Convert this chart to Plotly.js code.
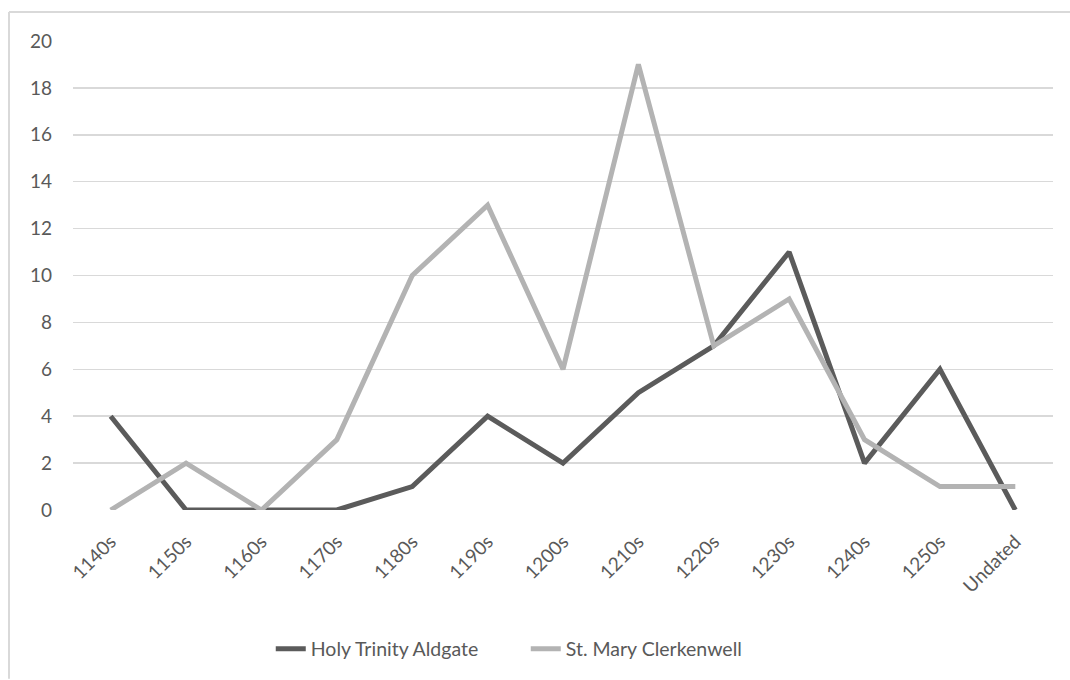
<!DOCTYPE html>
<html>
<head>
<meta charset="utf-8">
<script src="https://cdn.plot.ly/plotly-3.0.1.min.js"></script>
<style>
html,body{margin:0;padding:0;background:#fff;}
#chart{width:1070px;height:680px;}
</style>
</head>
<body>
<div id="chart"></div>
<script>
const categories = ["1140s","1150s","1160s","1170s","1180s","1190s","1200s","1210s","1220s","1230s","1240s","1250s","Undated"];
const holyTrinity = [4,0,0,0,1,4,2,5,7,11,2,6,0];
const stMary = [0,2,0,3,10,13,6,19,7,9,3,1,1];
const yTicks = [0,2,4,6,8,10,12,14,16,18,20];

const font = {family: "Lato, 'Liberation Sans', sans-serif", size: 19, color: "#595959"};
const legendFont = {family: "Lato, 'Liberation Sans', sans-serif", size: 19.5, color: "#595959"};

const traces = [
  {x: categories, y: holyTrinity, name: "Holy Trinity Aldgate", type: "scatter", mode: "lines",
   line: {color: "#5b5b5b", width: 5}},
  {x: categories, y: stMary, name: "St. Mary Clerkenwell", type: "scatter", mode: "lines",
   line: {color: "#b3b3b3", width: 5}}
];

const layout = {
  width: 1070, height: 680,
  margin: {l: 73, r: 17, t: 41, b: 168},
  paper_bgcolor: "#fff", plot_bgcolor: "#fff",
  font: font,
  showlegend: true,
  legend: {orientation: "h", x: 0.462, xanchor: "center", y: -0.255, yanchor: "top",
           font: legendFont, traceorder: "normal", entrywidth: 210, entrywidthmode: "pixels"},
  xaxis: {type: "category", tickangle: -45, showgrid: false, zeroline: false, showline: false,
          ticks: "", tickfont: font, range: [-0.5, 12.5], ticklabelstandoff: 16},
  yaxis: {range: [0, 20], tickvals: yTicks, ticktext: yTicks.map(String), showgrid: true,
          gridcolor: "#d9d9d9", gridwidth: 1.5, zeroline: false, showline: false, ticks: "",
          tickfont: font, ticklabelstandoff: 20},
  shapes: [
    {type: "line", xref: "paper", yref: "paper", x0: -0.0653, x1: 1.02, y0: 1.0616, y1: 1.0616,
     line: {color: "#d9d9d9", width: 2}},
    {type: "line", xref: "paper", yref: "paper", x0: -0.0653, x1: -0.0653, y0: 1.0616, y1: -0.36,
     line: {color: "#d9d9d9", width: 2}}
  ]
};

Plotly.newPlot("chart", traces, layout, {displayModeBar: false, staticPlot: true});
</script>
</body>
</html>
